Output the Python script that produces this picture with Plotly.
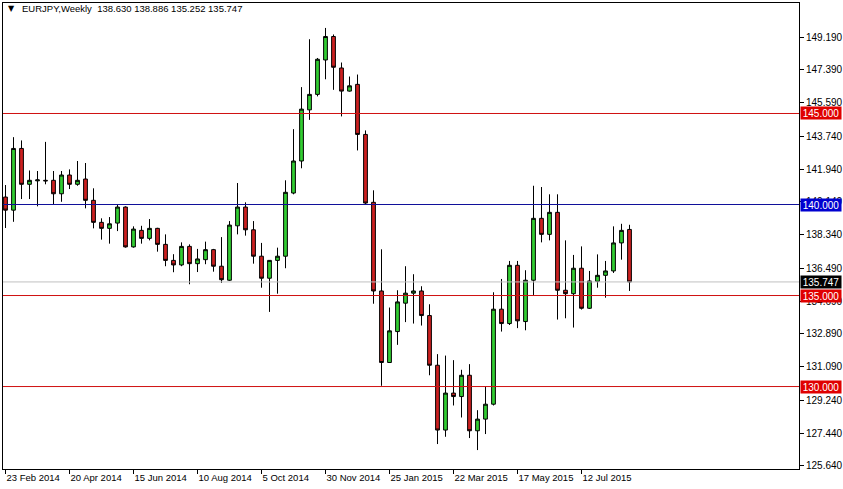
import pandas as pd
import plotly.graph_objects as go

symbol = "EURJPY,Weekly"
first_week = "2014-02-23"

opens = [140.41, 139.69, 143.08, 141.11, 141.30, 141.33, 141.33, 140.59, 141.62, 141.11,
         141.40, 140.23, 139.02, 138.69, 138.98, 139.86, 137.67, 138.58, 138.14, 138.69,
         137.81, 136.93, 136.68, 137.70, 136.75, 136.97, 137.52, 136.61, 135.84, 138.83,
         139.86, 138.61, 137.16, 135.95, 136.93, 137.16, 140.63, 142.39, 145.20, 146.05,
         147.94, 149.23, 147.50, 146.23, 146.60, 143.85, 140.12, 135.25, 131.32, 133.02,
         134.58, 135.13, 135.25, 133.90, 131.17, 127.61, 129.64, 129.45, 130.62, 127.57,
         128.21, 129.03, 134.25, 133.46, 136.66, 133.57, 135.84, 139.24, 138.36, 139.57,
         135.29, 135.10, 136.50, 134.30, 135.78, 136.11, 136.35, 137.89, 138.630]
highs = [141.07, 143.70, 143.52, 141.87, 141.84, 143.44, 141.84, 141.84, 141.93, 142.39,
         142.28, 140.89, 139.24, 139.31, 140.01, 139.90, 138.80, 138.83, 139.20, 138.72,
         138.36, 137.27, 137.92, 137.81, 137.56, 137.96, 137.56, 138.21, 139.09, 141.18,
         140.12, 139.09, 137.89, 136.95, 137.63, 141.33, 144.14, 146.45, 149.08, 148.05,
         149.70, 149.34, 147.80, 147.03, 147.14, 144.07, 140.78, 137.54, 134.34, 135.29,
         136.61, 136.17, 135.51, 134.52, 131.78, 131.70, 131.45, 130.92, 131.23, 128.70,
         130.02, 135.18, 135.91, 136.90, 136.90, 136.39, 141.03, 140.96, 140.56, 140.56,
         138.03, 137.23, 137.70, 136.35, 137.26, 136.90, 138.80, 138.94, 138.886]
lows = [138.71, 139.05, 140.30, 140.30, 139.90, 141.11, 140.01, 140.15, 140.85, 141.03,
        139.79, 138.69, 138.07, 137.85, 138.54, 137.63, 137.63, 137.85, 138.03, 137.41,
        136.61, 136.28, 136.61, 135.62, 136.29, 136.72, 136.31, 135.69, 135.80, 138.36,
        138.29, 136.75, 135.43, 134.10, 135.10, 136.50, 140.56, 141.99, 144.65, 145.94,
        146.88, 146.30, 144.84, 146.20, 142.97, 140.01, 134.55, 130.04, 131.30, 132.29,
        133.54, 133.46, 133.35, 130.62, 126.84, 127.24, 128.96, 128.30, 127.17, 126.51,
        127.39, 128.96, 133.02, 133.38, 133.21, 133.09, 135.03, 137.92, 138.03, 133.68,
        133.75, 133.24, 134.23, 134.26, 135.43, 134.88, 136.24, 136.97, 135.252]
closes = [139.69, 143.08, 141.11, 141.33, 141.35, 141.30, 140.59, 141.62, 141.11, 141.33,
          140.23, 139.02, 138.69, 138.94, 139.86, 137.67, 138.65, 138.14, 138.69, 137.81,
          136.93, 136.68, 137.70, 136.75, 137.01, 137.52, 136.61, 135.87, 138.87, 139.86,
          138.61, 137.16, 135.95, 136.93, 137.16, 140.67, 142.39, 145.24, 146.05, 147.98,
          149.23, 147.54, 146.23, 146.52, 143.85, 140.08, 135.25, 131.32, 133.06, 134.65,
          135.13, 135.25, 133.90, 131.17, 127.61, 129.64, 129.45, 130.62, 127.57, 128.21,
          129.03, 134.25, 133.46, 136.66, 133.61, 135.84, 139.24, 138.36, 139.57, 135.29,
          135.10, 136.50, 134.30, 135.80, 136.11, 136.35, 137.89, 138.58, 135.747]

tick_dates = ["2014-02-23", "2014-04-20", "2014-06-15", "2014-08-10", "2014-10-05",
              "2014-11-30", "2015-01-25", "2015-03-22", "2015-05-17", "2015-07-12"]
tick_labels = ["23 Feb 2014", "20 Apr 2014", "15 Jun 2014", "10 Aug 2014", "5 Oct 2014",
               "30 Nov 2014", "25 Jan 2015", "22 Mar 2015", "17 May 2015", "12 Jul 2015"]

price_ticks = [149.19, 147.39, 145.59, 143.74, 141.94, 140.14, 138.34, 136.49,
               134.69, 132.89, 131.09, 129.24, 127.44, 125.64]

level_values = [145.0, 140.0, 135.0, 130.0]
level_colors = ["#D01010", "#10109A", "#D01010", "#D01010"]
label_bg = ["#E00000", "#0000D0", "#E00000", "#E00000"]

weeks = pd.date_range(first_week, periods=len(opens), freq="7D")

fig = go.Figure()
fig.add_trace(go.Candlestick(
    x=weeks, open=opens, high=highs, low=lows, close=closes,
    increasing=dict(fillcolor="#32CD32", line=dict(color="black", width=1)),
    decreasing=dict(fillcolor="#CC2020", line=dict(color="black", width=1)),
    whiskerwidth=0, showlegend=False, hoverinfo="skip",
))

# horizontal levels
for v, c in zip(level_values, level_colors):
    fig.add_shape(type="line", xref="paper", x0=0, x1=1, yref="y", y0=v, y1=v,
                  line=dict(color=c, width=1))
last_close = closes[-1]
fig.add_shape(type="line", xref="paper", x0=0, x1=1, yref="y", y0=last_close, y1=last_close,
              line=dict(color="#C0C0C0", width=1))

# right-hand price labels
for v, bg in zip(level_values, label_bg):
    fig.add_annotation(xref="paper", x=1, xanchor="left", xshift=1, yref="y", y=v,
                       text=f"{v:.3f}", showarrow=False, bgcolor=bg, width=40, height=12,
                       borderpad=0, font=dict(color="white", size=10,
                                              family="Liberation Sans, Arial, sans-serif"))
fig.add_annotation(xref="paper", x=1, xanchor="left", xshift=1, yref="y", y=last_close,
                   text=f"{last_close:.3f}", showarrow=False, bgcolor="black", width=40, height=12,
                   borderpad=0, font=dict(color="white", size=10,
                                          family="Liberation Sans, Arial, sans-serif"))

# header
fig.add_annotation(xref="paper", yref="paper", x=0.004, y=0.988, xanchor="left", yanchor="middle",
                   text="▼", showarrow=False, font=dict(size=8, color="black", family="DejaVu Sans"))
fig.add_annotation(xref="paper", yref="paper", x=0.021, y=0.988, xanchor="left", yanchor="middle",
                   text=f"{symbol}  {opens[-1]:.3f} {highs[-1]:.3f} {lows[-1]:.3f} {closes[-1]:.3f}",
                   showarrow=False,
                   font=dict(size=9.5, color="black", family="Liberation Sans, Arial, sans-serif"))

span_lo = weeks[0] - pd.Timedelta(days=7 * 0.3125)
span_hi = weeks[0] + pd.Timedelta(days=7 * 99.1875)

fig.update_layout(
    width=843, height=489,
    margin=dict(l=3, r=44, t=3, b=20, autoexpand=False),
    paper_bgcolor="white", plot_bgcolor="white",
    boxgap=0.33,
    font=dict(family="Liberation Sans, Arial, sans-serif", size=10, color="black"),
    xaxis=dict(
        type="date", range=[span_lo, span_hi], rangeslider=dict(visible=False),
        tickvals=pd.to_datetime(tick_dates), ticktext=tick_labels,
        ticks="outside", ticklen=4, tickcolor="black", ticklabelposition="outside right",
        tickfont=dict(size=9.5), showgrid=False, zeroline=False,
        showline=True, mirror=True, linecolor="black", linewidth=1,
    ),
    yaxis=dict(
        side="right", range=[125.47, 151.07], tickvals=price_ticks, tickformat=".3f",
        ticks="outside", ticklen=4, tickcolor="black", tickfont=dict(size=10),
        showgrid=False, zeroline=False,
        showline=True, mirror=True, linecolor="black", linewidth=1,
    ),
)

fig.write_html("out.html", config={"displayModeBar": False},
               post_script="document.body.style.margin='0px';")
